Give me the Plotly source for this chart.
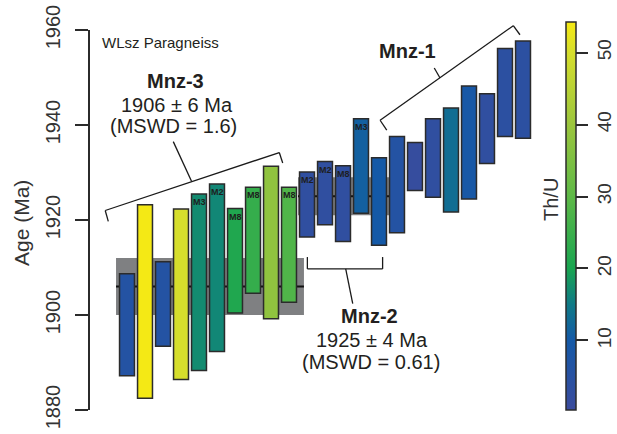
import plotly.graph_objects as go

# Monazite spot ages (Ma), 2-sigma error boxes, ordered by age within groups
spot = list(range(1, 24))
age_lo = [1887.2, 1882.5, 1893.4, 1886.4, 1888.3, 1892.3, 1900.4, 1904.6, 1899.2, 1902.7,
          1916.4, 1919.0, 1915.5, 1921.4, 1914.7, 1917.3, 1926.2, 1924.8, 1921.7, 1924.4,
          1931.9, 1937.6, 1937.2]
age_hi = [1908.7, 1923.2, 1911.2, 1922.3, 1925.5, 1927.6, 1922.4, 1926.9, 1931.3, 1926.9,
          1930.1, 1932.3, 1931.4, 1941.3, 1933.1, 1937.6, 1936.3, 1941.3, 1943.6, 1948.2,
          1946.6, 1956.1, 1957.7]
th_u = [6, 54, 6, 50, 17, 16.5, 21, 24, 38, 28,
        3, 3, 3, 11, 10, 6, 1.5, 3, 13, 9,
        3, 4, 4]
domain = ["", "", "", "", "M3", "M2", "M8", "M8", "", "M8",
          "M2", "M2", "M8", "M3", "", "", "", "", "", "",
          "", "", ""]

# Weighted-mean ages of the two populations
mnz3_age, mnz3_err = 1906, 6
mnz2_age, mnz2_err = 1925, 4

y_ticks = [1880, 1900, 1920, 1940, 1960]
cbar_ticks = [10, 20, 30, 40, 50]
thu_min, thu_max = 0.3, 54.2

ink = "#2b2b2b"
font = "Liberation Sans, Arial, sans-serif"

# Th/U colour ramp: blue -> teal -> green -> yellow
ramp = [(0.3, "#3b4b9d"), (10, "#1459a7"), (15, "#0f7a86"), (20, "#19a550"),
        (30, "#5eb947"), (40, "#9cc63d"), (50, "#d6de2c"), (54.2, "#f6ea14")]
colorscale = [[(v - thu_min) / (thu_max - thu_min), c] for v, c in ramp]

fig = go.Figure()

fig.add_trace(go.Bar(
    x=spot,
    y=[h - l for h, l in zip(age_hi, age_lo)],
    base=age_lo,
    width=0.83,
    marker=dict(
        color=th_u, colorscale=colorscale, cmin=thu_min, cmax=thu_max,
        line=dict(color=ink, width=1.5),
        colorbar=dict(
            x=1.0578, xanchor="left", xpad=0,
            y=(410 - 22.3) / 380, yanchor="top", ypad=0,
            len=387.7, lenmode="pixels", thickness=10,
            outlinecolor=ink, outlinewidth=1.5,
            tickvals=cbar_ticks, ticks="outside", ticklen=12, tickwidth=1.5,
            tickcolor=ink, tickangle=-90,
            tickfont=dict(family=font, size=19, color="#333"),
        ),
    ),
    hoverinfo="skip",
    showlegend=False,
))

shapes = []
# Weighted-mean bands with their mean line (behind the boxes)
for x0, x1, age, err in [(0.39, 10.83, mnz3_age, mnz3_err), (10.5, 15.61, mnz2_age, mnz2_err)]:
    shapes.append(dict(type="rect", xref="x", yref="y", x0=x0, x1=x1,
                       y0=age - err, y1=age + err, fillcolor="#7f8082",
                       line=dict(width=0), layer="below"))
    shapes.append(dict(type="line", xref="x", yref="y", x0=x0, x1=x1,
                       y0=age, y1=age, line=dict(color="#111", width=2), layer="below"))


def yp(age):
    return (age - 1880) / 80


def seg(xa, ya, xb, yb):
    return dict(type="line", xref="x", yref="paper", x0=xa, y0=yp(ya), x1=xb, y1=yp(yb),
                line=dict(color="#1a1a1a", width=1.3))


# Group brackets with leaders
shapes += [
    seg(-0.21, 1922.0, -0.04, 1919.7),
    seg(-0.21, 1922.0, 9.46, 1934.2),
    seg(9.46, 1934.2, 9.65, 1932.0),
    seg(4.59, 1928.1, 3.57, 1936.5),
    seg(15.06, 1941.0, 15.43, 1938.9),
    seg(15.06, 1941.0, 22.46, 1960.9),
    seg(22.46, 1960.9, 22.83, 1959.0),
    seg(18.39, 1949.9, 18.07, 1952.0),
    seg(11.02, 1912.2, 11.02, 1909.7),
    seg(11.02, 1909.7, 15.2, 1909.7),
    seg(15.2, 1909.7, 15.2, 1912.2),
    seg(13.15, 1909.7, 13.54, 1902.4),
]

annotations = []


def label(x, y, text, size=20, bold=False, xanchor="center"):
    annotations.append(dict(
        x=x, y=y, xref="x", yref="y", text=f"<b>{text}</b>" if bold else text,
        showarrow=False, xanchor=xanchor, yanchor="middle",
        font=dict(family=font, size=size, color="#231f20")))


label(-0.5, 1957.4, "WLsz Paragneiss", size=15, xanchor="left")
label(3.72, 1949.2, "Mnz-3", bold=True)
label(3.76, 1944.3, f"{mnz3_age} ± {mnz3_err} Ma")
label(3.6, 1939.7, "(MSWD = 1.6)")
label(16.61, 1955.5, "Mnz-1", bold=True)
label(14.48, 1899.7, "Mnz-2", bold=True)
label(14.63, 1894.8, f"{mnz2_age} ± {mnz2_err} Ma")
label(14.55, 1890.2, "(MSWD = 0.61)")

# Textural domain tags on top of the boxes
for s, top, tag in zip(spot, age_hi, domain):
    if tag:
        annotations.append(dict(
            x=s, y=top, xref="x", yref="y", text=f"<b>{tag}</b>", showarrow=False,
            xanchor="center", yanchor="top", yshift=-1,
            font=dict(family=font, size=9, color="#1e1e1e")))

annotations.append(dict(
    x=(21 - 90) / 450, y=(410 - 223) / 380, xref="paper", yref="paper",
    text="Age (Ma)", textangle=-90, showarrow=False, xanchor="center", yanchor="middle",
    font=dict(family=font, size=21, color="#333")))
annotations.append(dict(
    x=(551 - 90) / 450, y=(410 - 200) / 380, xref="paper", yref="paper",
    text="Th/U", textangle=-90, showarrow=False, xanchor="center", yanchor="middle",
    font=dict(family=font, size=20, color="#333")))

fig.update_layout(
    width=617, height=434,
    margin=dict(l=90, r=77, t=30, b=24, autoexpand=False),
    paper_bgcolor="white", plot_bgcolor="white",
    xaxis=dict(range=[-1.056, 23.944], visible=False),
    yaxis=dict(
        range=[1880, 1960], tickvals=y_ticks, showgrid=False, zeroline=False,
        showline=True, linecolor=ink, linewidth=1.5,
        ticks="outside", ticklen=13, tickwidth=1.5, tickcolor=ink,
        tickangle=-90, ticklabelstandoff=7,
        tickfont=dict(family=font, size=20, color="#333"),
    ),
    shapes=shapes,
    annotations=annotations,
)

fig.write_html("out.html")
